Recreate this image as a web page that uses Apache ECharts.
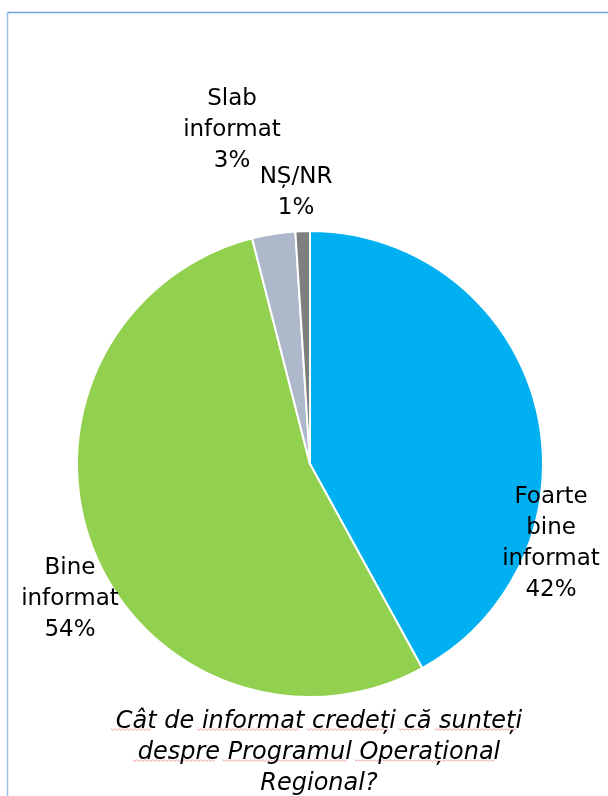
<!DOCTYPE html>
<html>
<head>
<meta charset="utf-8">
<script src="https://cdn.jsdelivr.net/npm/echarts@6/dist/echarts.min.js"></script>
<style>
  html, body { margin: 0; padding: 0; background: #ffffff; }
  #chart { width: 608px; height: 796px; }
</style>
</head>
<body>
<div id="chart"></div>
<script>
// Survey answers: how informed respondents consider themselves about the programme
const categories = ['Foarte bine informat', 'Bine informat', 'Slab informat', 'NȘ/NR'];
const shares = [42, 54, 3, 1];
const sliceColors = ['#00B0F0', '#92D050', '#ADB9CA', '#7F7F7F'];
const titleLines = ['Cât de informat credeți că sunteți', 'despre Programul Operațional', 'Regional?'];
// Words carrying the proofing squiggle, per title line
const flaggedWords = [['Cât', 'informat', 'credeți', 'că', 'sunteți'], ['despre', 'Programul', 'Operațional'], []];

// Manual label anchors (label block centres), one per slice
const labelAnchors = [
  [551, 544],
  [70, 599],
  [232, 130],
  [296, 193]
];

const FONT = 'DejaVu Sans';
const TITLE_SIZE = 24;
const TITLE_LINE_H = 31;
const TITLE_CX = 314;
const TITLE_TOP = 701;

// Wavy underlines under flagged title words, positioned from measured text widths
function squiggles() {
  const ctx = document.createElement('canvas').getContext('2d');
  ctx.font = 'italic ' + TITLE_SIZE + 'px "' + FONT + '"';
  const out = [];
  titleLines.forEach((line, li) => {
    const lineW = ctx.measureText(line).width;
    const x0 = TITLE_CX - lineW / 2;
    const y = TITLE_TOP + TITLE_LINE_H * li + TITLE_LINE_H / 2 + 13;
    let from = 0;
    flaggedWords[li].forEach((word, wi) => {
      const idx = line.indexOf(word, from);
      from = idx + word.length;
      const xs = x0 + ctx.measureText(line.slice(0, idx)).width;
      const w = ctx.measureText(word).width;
      const pts = [];
      for (let k = 0, x = xs; x <= xs + w; x += 2, k++) {
        pts.push([x, y + (k % 2 ? 0.8 : -0.8)]);
      }
      out.push({
        type: 'polyline', id: 'sq' + li + '_' + wi, silent: true,
        shape: { points: pts },
        style: { stroke: '#F2A3A3', lineWidth: 1, fill: null }
      });
    });
  });
  return out;
}

const chart = echarts.init(document.getElementById('chart'), null, { renderer: 'canvas' });

chart.setOption({
  animation: false,
  backgroundColor: '#ffffff',
  graphic: [
    { type: 'line', id: 'frameTop', shape: { x1: 7, y1: 12.5, x2: 608, y2: 12.5 }, style: { stroke: '#6FA6DD', lineWidth: 1.5 } },
    { type: 'line', id: 'frameLeft', shape: { x1: 7.5, y1: 12, x2: 7.5, y2: 796 }, style: { stroke: '#9DC3E6', lineWidth: 1.5 } }
  ].concat(squiggles()),
  title: {
    text: titleLines.join('\n'),
    left: TITLE_CX,
    textAlign: 'center',
    top: TITLE_TOP,
    textStyle: {
      fontFamily: FONT,
      fontStyle: 'italic',
      fontWeight: 'normal',
      fontSize: TITLE_SIZE,
      lineHeight: TITLE_LINE_H,
      color: '#000000'
    }
  },
  series: [{
    type: 'pie',
    center: [310, 464],
    radius: 233,
    startAngle: 90,
    clockwise: true,
    silent: true,
    itemStyle: { borderColor: '#ffffff', borderWidth: 2 },
    label: {
      show: true,
      position: 'outside',
      overflow: 'none',
      fontFamily: FONT,
      fontSize: 23,
      lineHeight: 31,
      color: '#000000',
      align: 'center',
      formatter: p => p.name.replace(/ /g, '\n') + '\n' + p.value + '%'
    },
    labelLine: { show: false },
    labelLayout: p => ({
      x: labelAnchors[p.dataIndex][0],
      y: labelAnchors[p.dataIndex][1],
      width: 140,
      align: 'center',
      verticalAlign: 'middle'
    }),
    data: categories.map((name, i) => ({
      name: name,
      value: shares[i],
      itemStyle: { color: sliceColors[i] }
    }))
  }]
});
</script>
</body>
</html>
